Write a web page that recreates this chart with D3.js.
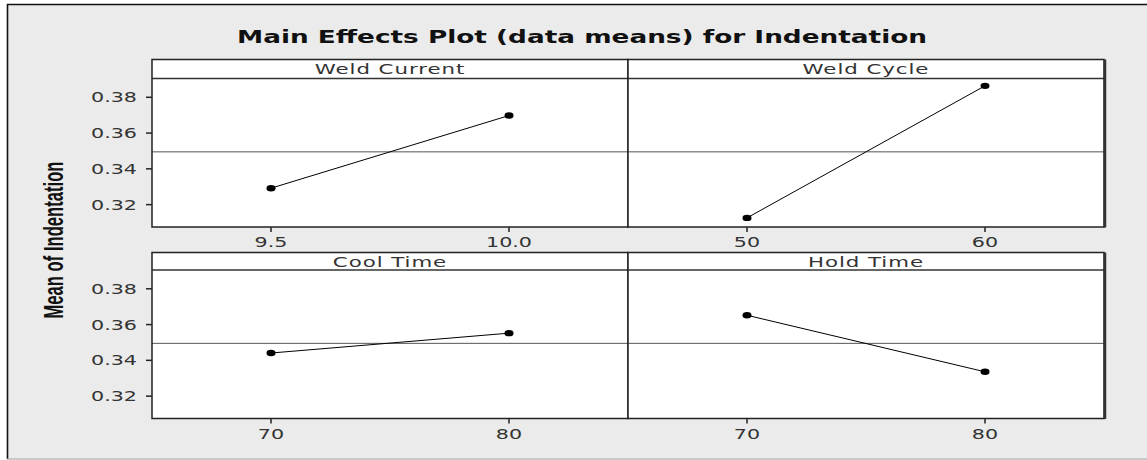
<!DOCTYPE html>
<html>
<head>
<meta charset="utf-8">
<script src="https://cdn.jsdelivr.net/npm/d3@7"></script>
<style>
  html, body { margin: 0; padding: 0; background: #ffffff; }
  svg { display: block; }
</style>
</head>
<body>
<svg id="chart" width="1147" height="460"></svg>
<script>
// Factors and their level means (mean of Indentation at each level)
const factors = ["Weld Current", "Weld Cycle", "Cool Time", "Hold Time"];
const levels = [[9.5, 10.0], [50, 60], [70, 80], [70, 80]];
const levelLabels = [["9.5", "10.0"], ["50", "60"], ["70", "80"], ["70", "80"]];
const means = [[0.3292, 0.3698], [0.3126, 0.3864], [0.3441, 0.3552], [0.3652, 0.3336]];
const grandMean = 0.3495;
const yTicks = [0.32, 0.34, 0.36, 0.38];
const yDomain = [0.3075, 0.3905];

const title = "Main Effects Plot (data means) for Indentation";
const yTitle = "Mean of Indentation";

const svg = d3.select("#chart");
const W = 1147, H = 460;
const stretch = 1.53; // horizontal glyph stretch used throughout

// outer frame
svg.append("rect").attr("x", 7.5).attr("y", 4.5).attr("width", W).attr("height", 454)
  .attr("fill", "#ebebeb");
svg.append("line").attr("x1", 7.5).attr("x2", 7.5).attr("y1", 4).attr("y2", 459)
  .attr("stroke", "#111").attr("stroke-width", 1.6);
svg.append("line").attr("x1", 7).attr("x2", W).attr("y1", 4.5).attr("y2", 4.5)
  .attr("stroke", "#111").attr("stroke-width", 1.6);
svg.append("line").attr("x1", 7).attr("x2", W).attr("y1", 459).attr("y2", 459)
  .attr("stroke", "#9a9a9a").attr("stroke-width", 1.2);

// title
svg.append("text")
  .attr("x", 237).attr("y", 43)
  .attr("font-family", "DejaVu Sans, Verdana, sans-serif")
  .attr("font-weight", "bold")
  .attr("font-size", 17.5)
  .attr("fill", "#111")
  .attr("textLength", 690)
  .attr("lengthAdjust", "spacingAndGlyphs")
  .text(title);

// y axis title
svg.append("text")
  .attr("transform", "translate(63,240) rotate(-90) scale(1,1.7)")
  .attr("text-anchor", "middle")
  .attr("font-family", "Liberation Sans Narrow, Arial Narrow, sans-serif")
  .attr("font-weight", "bold")
  .attr("font-size", 16)
  .attr("fill", "#111")
  .attr("textLength", 157)
  .attr("lengthAdjust", "spacingAndGlyphs")
  .text(yTitle);

// panel grid geometry
const colX = [152, 628];
const panelW = 476;
const rows = [
  { stripTop: 59.5, plotTop: 78.5, plotBottom: 227 },
  { stripTop: 252.5, plotTop: 270, plotBottom: 418.5 }
];

const tickFont = "DejaVu Sans, Verdana, sans-serif";

factors.forEach((name, i) => {
  const r = rows[Math.floor(i / 2)];
  const c = i % 2;
  const x0 = colX[c], x1 = x0 + panelW;
  const lv = levels[i];
  const span = lv[1] - lv[0];
  const x = d3.scaleLinear().domain([lv[0] - span / 2, lv[1] + span / 2]).range([x0, x1]);
  const y = d3.scaleLinear().domain(yDomain).range([r.plotBottom, r.plotTop]);

  const g = svg.append("g");

  // strip
  g.append("rect").attr("x", x0).attr("y", r.stripTop).attr("width", panelW)
    .attr("height", r.plotTop - r.stripTop).attr("fill", "#fff");
  // plot area
  g.append("rect").attr("x", x0).attr("y", r.plotTop).attr("width", panelW)
    .attr("height", r.plotBottom - r.plotTop).attr("fill", "#fff");

  // strip label
  g.append("text")
    .attr("transform", `translate(${(x0 + x1) / 2},${r.stripTop + 14}) scale(${stretch + 0.05},1)`)
    .attr("text-anchor", "middle")
    .attr("font-family", tickFont)
    .attr("font-size", 13.5)
    .attr("fill", "#333")
    .attr("letter-spacing", 0.6)
    .text(name);

  // reference line at the overall mean
  g.append("line").attr("x1", x0).attr("x2", x1)
    .attr("y1", y(grandMean)).attr("y2", y(grandMean))
    .attr("stroke", "#555").attr("stroke-width", 1);

  // main-effect line and points
  const pts = lv.map((v, k) => [v, means[i][k]]);
  g.append("path")
    .attr("d", d3.line().x(d => x(d[0])).y(d => y(d[1]))(pts))
    .attr("fill", "none").attr("stroke", "#000").attr("stroke-width", 1);
  g.selectAll("ellipse").data(pts).join("ellipse")
    .attr("cx", d => x(d[0])).attr("cy", d => y(d[1]))
    .attr("rx", 4.5).attr("ry", 3.2).attr("fill", "#000");

  // x axis ticks and labels
  lv.forEach((v, k) => {
    g.append("line").attr("x1", x(v)).attr("x2", x(v))
      .attr("y1", r.plotBottom).attr("y2", r.plotBottom + 5)
      .attr("stroke", "#222").attr("stroke-width", 1.5);
    g.append("text")
      .attr("transform", `translate(${x(v)},${r.plotBottom + 20}) scale(${stretch},1)`)
      .attr("text-anchor", "middle")
      .attr("font-family", tickFont)
      .attr("font-size", 13.5)
      .attr("fill", "#333")
      .text(levelLabels[i][k]);
  });

  // y axis on the left column
  if (c === 0) {
    yTicks.forEach(t => {
      g.append("line").attr("x1", x0 - 6).attr("x2", x0)
        .attr("y1", y(t)).attr("y2", y(t))
        .attr("stroke", "#222").attr("stroke-width", 1.5);
      g.append("text")
        .attr("transform", `translate(${x0 - 15},${y(t) + 5}) scale(${stretch},1)`)
        .attr("text-anchor", "end")
        .attr("font-family", tickFont)
        .attr("font-size", 13.5)
        .attr("fill", "#333")
        .text(d3.format(".2f")(t));
    });
  }

  // strip / plot separator
  g.append("line").attr("x1", x0).attr("x2", x1)
    .attr("y1", r.plotTop).attr("y2", r.plotTop)
    .attr("stroke", "#333").attr("stroke-width", 1.5);
  // borders
  g.append("rect").attr("x", x0).attr("y", r.stripTop).attr("width", panelW)
    .attr("height", r.plotBottom - r.stripTop)
    .attr("fill", "none").attr("stroke", "#222").attr("stroke-width", 1.5);
  if (c === 1) {
    g.append("line").attr("x1", x1 + 1).attr("x2", x1 + 1)
      .attr("y1", r.stripTop).attr("y2", r.plotBottom + 0.5)
      .attr("stroke", "#333").attr("stroke-width", 2.5);
  }
});
</script>
</body>
</html>
